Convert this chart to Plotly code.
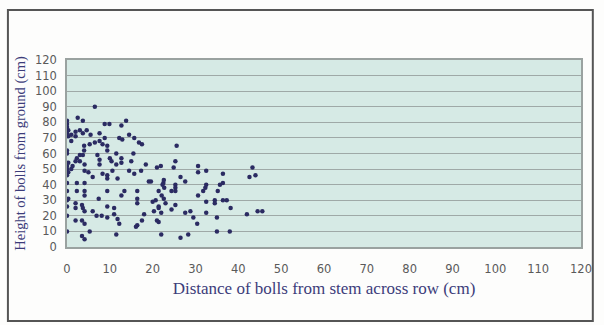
import plotly.graph_objects as go

# Boll positions (distance from stem, height from ground), cm
distance_cm = [
    0, 0, 0, 0.3, 0, 0.3, 0, 0, 0.3, 0, 0, 0.3, 0, 0, 0, 0.3, 0, 0, 0, 0,
    1, 1, 1.3, 1, 2, 2, 2.5, 2.3, 2, 2.3, 2.3, 2, 2, 2,
    3, 3, 3, 3.7, 3.7, 3.7, 3.5, 3.7, 3.5, 3.5, 4.1, 4.1, 4.1, 4.1, 4.1, 4.1, 4.1, 4.1, 4.6, 4, 4,
    5.3, 5.3, 5.5, 5, 6.5, 6.5, 6, 6.9, 7.6, 7.6, 7.1, 7.6, 7.6, 7.4, 6,
    8.3, 8.8, 8.8, 8.3, 8.1, 9.4, 9.4, 9.4, 9.4, 9.4, 9.4, 9.4, 9.9, 10.4, 10.6, 10,
    11, 11.5, 11.5, 11.5, 11.8, 11.8, 12.2, 12.2, 12.7, 12.7, 12.7, 12.7, 12.9, 13.4, 13.8, 11,
    14.5, 14.5, 15.7, 15.7, 16.4, 16.4, 16.4, 16.4, 16.1, 16.8, 17.3, 17.5, 17.5, 18, 18.4, 19.1, 15, 15.5,
    19.6, 20, 20.7, 20.3, 21, 21, 21.4, 21.4, 21.4, 21.4, 21.9, 22.1, 22, 22, 22.5, 22.3, 22.6, 22.6, 22.7, 23,
    24.4, 24.4, 24.9, 25.3, 25.3, 25.3, 25.3, 25.3, 25.6, 26.5, 26.5, 27.6, 27.6, 28.3, 28.8, 29.5,
    30.4, 30.6, 30.6, 30.6, 31.8, 32.5, 32.5, 32.3, 32.5, 32.5, 34.5, 34.5, 35, 35, 35.2, 35.7, 36.4, 36.4, 36.4, 37.3, 38.2, 38,
    42, 42.6, 43.3, 44, 44.5, 45.6,
]
height_cm = [
    81, 79, 77, 75, 73, 71, 62, 60, 54, 52, 50, 48, 46, 41, 36, 31, 30, 26, 20, 10,
    72, 68, 52, 50, 74, 71, 83, 57, 55, 41, 36, 28, 25, 17,
    75, 59, 55, 81, 73, 59, 27, 25, 17, 7, 53, 49, 41, 36, 33, 23, 15, 5, 75, 65, 62,
    66, 10, 72, 48, 90, 67, 23, 20, 68, 73, 59, 56, 53, 31, 45,
    66, 79, 70, 47, 20, 65, 62, 46, 44, 36, 26, 19, 79, 55, 49, 57,
    21, 60, 53, 8, 44, 18, 70, 15, 78, 57, 54, 33, 69, 36, 81, 25,
    72, 49, 70, 47, 36, 31, 28, 14, 13, 67, 49, 66, 17, 21, 53, 42, 55, 60,
    42, 29, 30, 23, 51, 17, 26, 36, 25, 16, 52, 33, 22, 8, 41, 40, 43, 31, 38, 28,
    36, 24, 51, 55, 40, 38, 36, 27, 65, 45, 6, 42, 22, 8, 23, 19,
    15, 52, 48, 33, 36, 49, 40, 38, 29, 22, 30, 28, 19, 10, 36, 40, 41, 47, 30, 30, 25, 10,
    21, 45, 51, 46, 23, 23,
]

tick_vals = list(range(0, 121, 10))
tick_text = [str(v) for v in tick_vals]

x_title = "Distance of bolls from stem across row (cm)"
y_title = "Height of bolls from ground (cm)"

fig = go.Figure()
fig.add_trace(go.Scatter(
    x=distance_cm, y=height_cm, mode="markers",
    marker=dict(color="#2b2b62", size=4.5, line=dict(width=0)),
    showlegend=False, hoverinfo="x+y",
))

serif = "Liberation Serif, Times New Roman, serif"
x_title_font = dict(family=serif, size=17, color="#3c3c7a")
y_title_font = dict(family=serif, size=14.5, color="#3c3c7a")
tick_font = dict(family="DejaVu Sans, Verdana, sans-serif", size=11.5, color="#5a5a5a")

fig.update_layout(
    width=604, height=325,
    margin=dict(l=67, r=15, t=60, b=78),
    paper_bgcolor="#fdfdfc",
    plot_bgcolor="#d6eae5",
    xaxis=dict(
        range=[0, 120], tickvals=tick_vals, ticktext=tick_text,
        showgrid=False, zeroline=False,
        showline=True, linecolor="#9aa2a0", linewidth=1.5, mirror=True,
        ticks="", tickfont=tick_font, ticklabelstandoff=10,
        title=dict(text=x_title, font=x_title_font, standoff=8),
    ),
    yaxis=dict(
        range=[0, 120], tickvals=tick_vals, ticktext=tick_text,
        showgrid=True, gridcolor="#9fa9a7", gridwidth=1, zeroline=False,
        showline=True, linecolor="#9aa2a0", linewidth=1.5, mirror=True,
        ticks="", tickfont=tick_font, ticklabelstandoff=6,
        title=dict(text=y_title, font=y_title_font, standoff=6),
    ),
    shapes=[dict(
        type="rect", xref="paper", yref="paper",
        x0=(7 - 67) / 522, x1=(601 - 67) / 522,
        y0=(247 - 321) / 187, y1=(247 - 10) / 187,
        line=dict(color="#555555", width=2), fillcolor="rgba(0,0,0,0)", layer="below",
    )],
)

fig.write_html("out.html")
